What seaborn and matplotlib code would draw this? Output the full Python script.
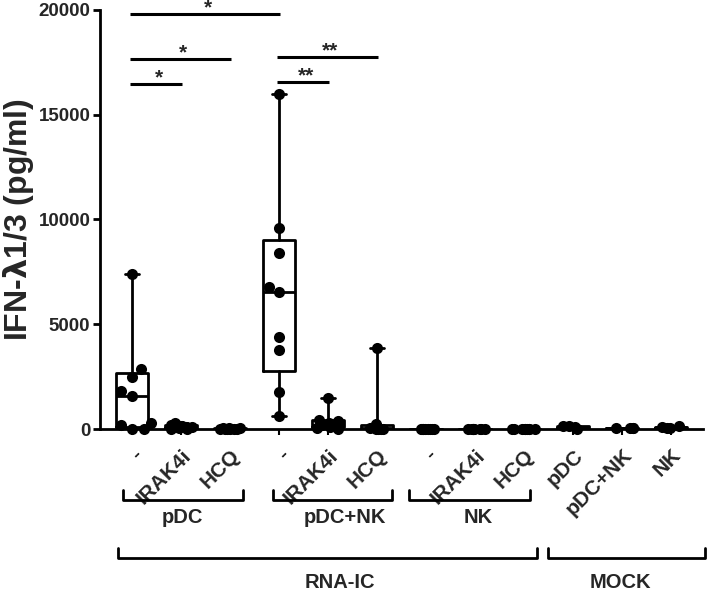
import numpy as np
import pandas as pd
import matplotlib
matplotlib.use("Agg")
import matplotlib.pyplot as plt
import seaborn as sns

# ---------------- data ----------------
conditions = ["pDC -", "pDC IRAK4i", "pDC HCQ",
              "pDC+NK -", "pDC+NK IRAK4i", "pDC+NK HCQ",
              "NK -", "NK IRAK4i", "NK HCQ",
              "MOCK pDC", "MOCK pDC+NK", "MOCK NK"]
tick_labels = ["-", "IRAK4i", "HCQ", "-", "IRAK4i", "HCQ",
               "-", "IRAK4i", "HCQ", "pDC", "pDC+NK", "NK"]

pdc_none = [0, 0, 200, 300, 1575, 1800, 2500, 2850, 7400]
pdc_irak4i = [0, 20, 50, 80, 100, 120, 150, 200, 300]
pdc_hcq = [0, 0, 0, 0, 0, 20, 30, 40, 50]
pdcnk_none = [600, 1750, 3750, 4400, 6550, 6800, 8400, 9600, 16000]
pdcnk_irak4i = [0, 50, 100, 150, 200, 300, 400, 450, 1500]
pdcnk_hcq = [0, 0, 0, 20, 50, 80, 100, 250, 3850]
nk_none = [0, 0, 0, 0, 0, 0, 0, 0, 0]
nk_irak4i = [0, 0, 0, 0, 0, 0, 0, 0, 0]
nk_hcq = [0, 0, 0, 0, 0, 0, 0, 0, 0]
mock_pdc = [20, 150, 130, 100]
mock_pdcnk = [30, 60, 50, 40]
mock_nk = [40, 120, 100, 60]

values = [pdc_none, pdc_irak4i, pdc_hcq, pdcnk_none, pdcnk_irak4i, pdcnk_hcq,
          nk_none, nk_irak4i, nk_hcq, mock_pdc, mock_pdcnk, mock_nk]

# groups whose points are laid out as a swarm (others are jittered rows,
# except isolated high values which are also swarmed / centred)
swarm_conditions = ["pDC -", "pDC+NK -"]
swarm_threshold = 1000

# significance comparisons (index1, index2, height, label)
sig_from = [0, 0, 0, 3, 3]
sig_to = [3, 2, 1, 5, 4]
sig_height = [19790, 17640, 16470, 17740, 16580]
sig_label = ["*", "*", "*", "**", "**"]

# group brackets
inner_groups = ["pDC", "pDC+NK", "NK"]
outer_groups = ["RNA-IC", "MOCK"]
y_ticks = [0, 5000, 10000, 15000, 20000]
y_label = r"IFN-$\mathrm{\lambda}$1/3 (pg/ml)"

# ---------------- layout ----------------
inner_span = [(-0.18, 2.27), (2.88, 5.31), (5.65, 8.12)]
inner_text_x = [1.03, 4.35, 7.06]
outer_span = [(-0.29, 8.27), (8.49, 11.69)]
outer_text_x = [4.24, 9.96]

sns.set_style("ticks")
plt.rcParams["font.family"] = ["Liberation Sans", "DejaVu Sans"]
plt.rcParams["font.weight"] = "bold"
plt.rcParams["mathtext.fontset"] = "custom"
plt.rcParams["mathtext.rm"] = "DejaVu Sans"

W, H = 709, 591
fig = plt.figure(figsize=(W / 100, H / 100), dpi=100)
ax = fig.add_axes([100 / W, (H - 429) / H, 603 / W, 419 / H])

df = pd.DataFrame({
    "condition": np.repeat(conditions, [len(v) for v in values]),
    "value": np.concatenate([np.asarray(v, float) for v in values]),
})

# box plots with Prism-style quartiles, whiskers min..max
stats = []
for c, v in zip(conditions, values):
    a = np.asarray(v, float)
    q1, med, q3 = np.percentile(a, [25, 50, 75], method="weibull")
    stats.append(dict(med=med, q1=q1, q3=q3, whislo=a.min(), whishi=a.max(),
                      fliers=[], label=c))
lp = dict(color="black", linewidth=2)
ax.bxp(stats, positions=range(len(conditions)), widths=0.64, showfliers=False,
       boxprops=lp, whiskerprops=lp, capprops=lp, medianprops=lp,
       capwidths=0.3, manage_ticks=False, zorder=2)

is_swarm = df["condition"].isin(swarm_conditions) | (df["value"] >= swarm_threshold)
np.random.seed(7)
sns.stripplot(data=df[~is_swarm], x="condition", y="value", order=conditions,
              color="black", size=8, jitter=0.24, linewidth=0, ax=ax,
              zorder=4, clip_on=False)
sns.swarmplot(data=df[is_swarm], x="condition", y="value", order=conditions,
              color="black", size=8, linewidth=0, ax=ax, zorder=4, clip_on=False)

ax.set_xlim(-0.65, 11.65)
ax.set_ylim(0, 20000)
ax.set_yticks(y_ticks)
ax.set_yticklabels([str(t) for t in y_ticks], fontsize=13.5, fontweight="bold")
ax.set_xticks(range(len(conditions)))
ax.set_xticklabels(tick_labels, rotation=45, ha="right", va="top",
                   rotation_mode="anchor", fontsize=15, fontweight="bold")
ax.tick_params(axis="y", length=5, width=2, pad=2, color="black")
ax.tick_params(axis="x", length=4, width=1.5, pad=8, color="black")
ax.set_xlabel("")
ax.set_ylabel(y_label, fontsize=23, fontweight="bold", labelpad=2)
sns.despine(ax=ax)
for s in ("left", "bottom"):
    ax.spines[s].set_linewidth(2)
    ax.spines[s].set_color("black")

# significance bars
for a, b, h, lab in zip(sig_from, sig_to, sig_height, sig_label):
    ax.plot([a - 0.03, b + 0.03], [h, h], color="black", lw=2.2,
            solid_capstyle="butt", clip_on=False)
    ax.annotate(lab, xy=((a + b) / 2 + 0.05, h), xytext=(0, 0.5),
                textcoords="offset points", ha="center", va="baseline",
                fontsize=15, fontweight="bold")

# group brackets below the axis
tr = ax.get_xaxis_transform()
for name, (x0, x1), tx in zip(inner_groups, inner_span, inner_text_x):
    ax.plot([x0, x0, x1, x1], [-0.1456, -0.1695, -0.1695, -0.1456], color="black",
            lw=2, transform=tr, clip_on=False)
    ax.text(tx, -0.2124, name, transform=tr, ha="center", va="center",
            fontsize=14.5, fontweight="bold")
for name, (x0, x1), tx in zip(outer_groups, outer_span, outer_text_x):
    ax.plot([x0, x0, x1, x1], [-0.284, -0.3079, -0.3079, -0.284], color="black",
            lw=2, transform=tr, clip_on=False)
    ax.text(tx, -0.3675, name, transform=tr, ha="center", va="center",
            fontsize=14.5, fontweight="bold")

fig.savefig("out.png", dpi=100)
